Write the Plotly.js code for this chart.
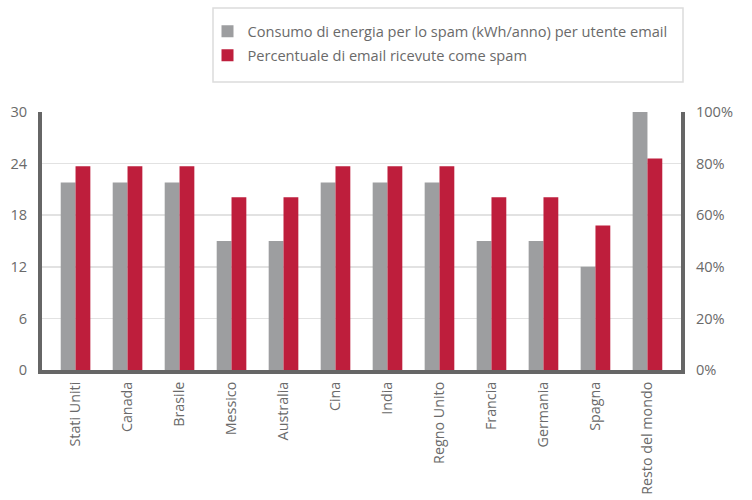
<!DOCTYPE html>
<html>
<head>
<meta charset="utf-8">
<script src="https://cdn.plot.ly/plotly-3.0.1.min.js"></script>
<style>html,body{margin:0;padding:0;background:#fff;}#chart{width:752px;height:500px;}</style>
</head>
<body>
<div id="chart"></div>
<script>
const countries = ["Stati Uniti","Canada","Brasile","Messico","Australia","Cina","India","Regno Unito","Francia","Germania","Spagna","Resto del mondo"];
const energyKWh = [21.8,21.8,21.8,15,15,21.8,21.8,21.8,15,15,12,30];
const spamPct = [79,79,79,67,67,79,79,79,67,67,56,82];
const energyName = "Consumo di energia per lo spam (kWh/anno) per utente email";
const spamName = "Percentuale di email ricevute come spam";
const leftTicks = [0,6,12,18,24,30];
const rightTicks = [0,20,40,60,80,100];

const FONT = "'Open Sans', 'Noto Sans', sans-serif";
const TXT = "#6a6a6a";
const AXIS = "#666666";

const traces = [
  {type:"bar", name:energyName, x:countries, y:energyKWh, yaxis:"y", legendgroup:"a",
   width:0.285, offset:-0.285, marker:{color:"#9d9ea0"}},
  {type:"bar", name:spamName, x:countries, y:spamPct, yaxis:"y2", legendgroup:"b",
   width:0.285, offset:0, marker:{color:"#be1e3c"}}
];

const layout = {
  width:752, height:500,
  margin:{l:42, r:71, t:112, b:130},
  paper_bgcolor:"#fff", plot_bgcolor:"#fff",
  font:{family:FONT, size:14.6, color:TXT},
  barmode:"overlay",
  showlegend:true,
  legend:{x:0.259, xanchor:"left", y:1.375, yanchor:"top", bgcolor:"rgba(0,0,0,0)",
          font:{family:FONT, size:14.6, color:TXT}, traceorder:"grouped", tracegroupgap:2, itemwidth:30},
  xaxis:{type:"category", range:[-0.645, 11.645], showline:true, linecolor:AXIS, linewidth:4,
         ticks:"", tickangle:-90, tickfont:{family:FONT, size:14.3, color:TXT},
         ticklabelstandoff:2, showgrid:false, zeroline:false, fixedrange:true},
  yaxis:{range:[0,30], tickvals:leftTicks, ticktext:leftTicks.map(String), showline:true, linecolor:AXIS, linewidth:4,
         gridcolor:"#e2e2e2", gridwidth:1.5, zeroline:false, ticks:"", ticklabelstandoff:8,
         tickfont:{family:FONT, size:14.6, color:TXT}},
  yaxis2:{range:[0,100], overlaying:"y", side:"right", tickvals:rightTicks, ticktext:rightTicks.map(v=>v+"%"),
          showline:true, linecolor:AXIS, linewidth:4, showgrid:false, zeroline:false, ticks:"",
          ticklabelstandoff:8, tickfont:{family:FONT, size:14.6, color:TXT}},
  shapes:[{type:"rect", xref:"paper", yref:"paper", x0:(213-42)/639, x1:(683-42)/639,
           y0:(370-82)/258, y1:(370-8)/258, line:{color:"#dcdcdc", width:1.5}, fillcolor:"rgba(0,0,0,0)"}]
};

Plotly.newPlot("chart", traces, layout, {displayModeBar:false, staticPlot:true});
</script>
</body>
</html>
